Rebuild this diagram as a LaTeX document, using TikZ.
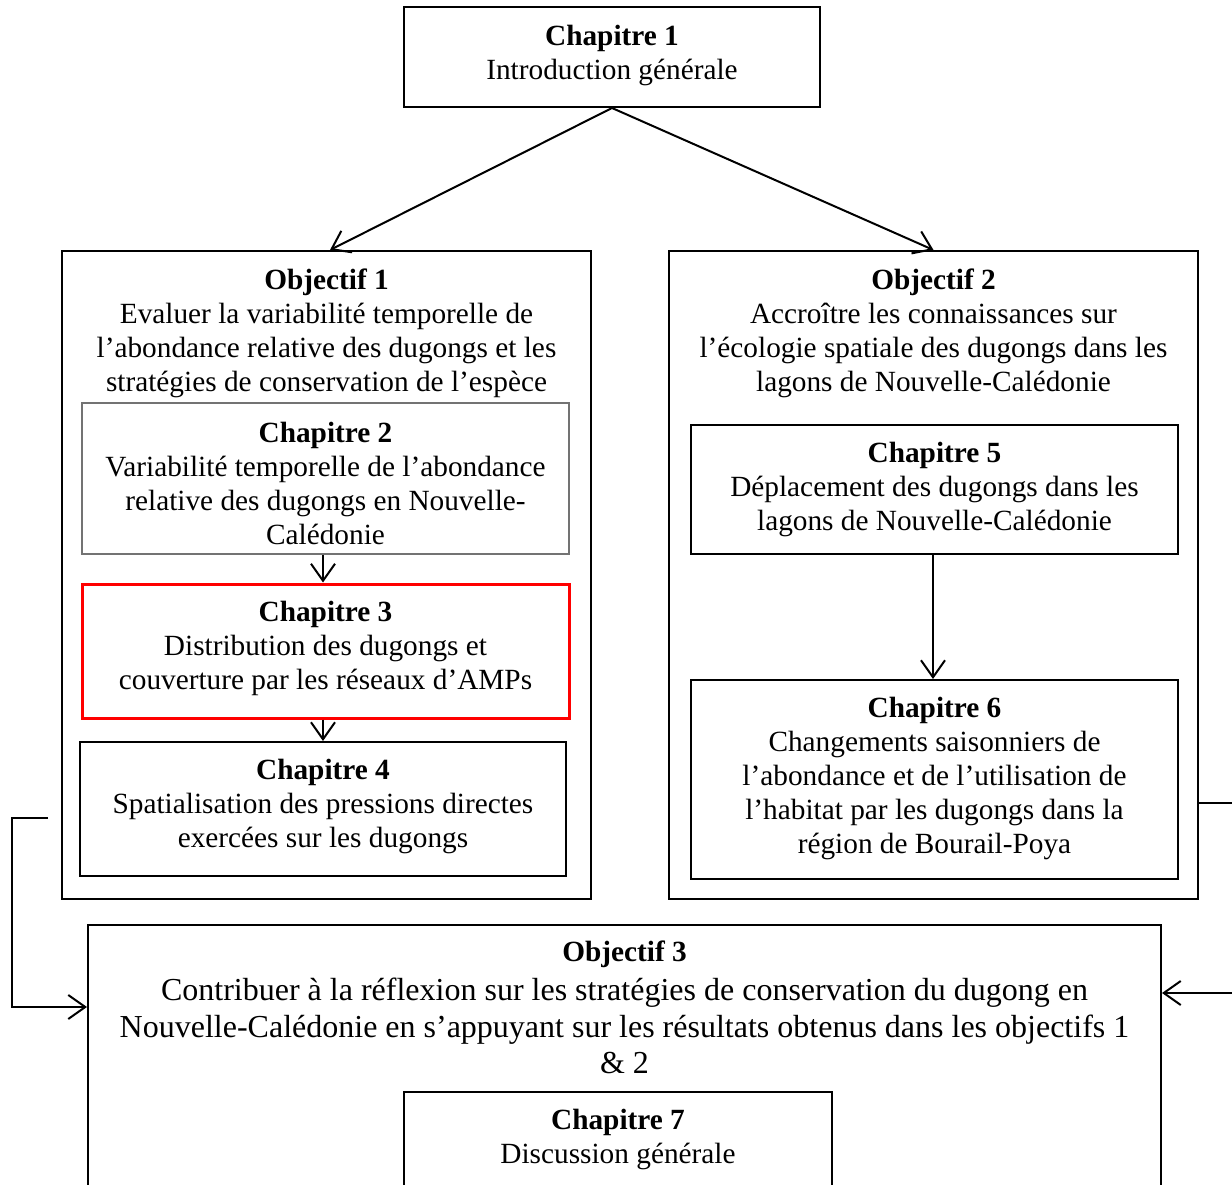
\documentclass[tikz,border=0pt]{standalone}
\usepackage{fontspec}
\setmainfont{Liberation Serif}
\usetikzlibrary{arrows.meta,calc}

\tikzset{
  box/.style={draw=black, line width=2pt, inner sep=0pt, fill=none},
  thinbox/.style={draw=black!55, line width=1.2pt, inner sep=0pt},
  redbox/.style={draw=red, line width=3pt, inner sep=0pt},
  txt/.style={align=center, inner sep=0pt, font=\fontsize{29.3}{34}\selectfont},
  bigtxt/.style={align=center, inner sep=0pt, font=\fontsize{32}{36.5}\selectfont},
  arr/.style={line width=2pt, -{Straight Barb[length=17pt,width=24pt,line width=2pt]}},
  link/.style={line width=2pt}
}

\begin{document}
\begin{tikzpicture}[x=1pt,y=-1pt]
  \path[use as bounding box] (0,0) rectangle (1232,1185);
  \clip (0,0) rectangle (1232,1185);

  % Introduction
  \node[box, minimum width=416pt, minimum height=100pt] (c1) at (612,57) {};
  \node[txt] (c1t) at (612,55) {\textbf{Chapitre 1}\\Introduction générale};

  % Objective 1 and its chapters
  \node[box, minimum width=529pt, minimum height=648pt] (o1) at (326.5,575) {};
  \node[txt] (o1t) at (326.5,333) {\textbf{Objectif 1}\\Evaluer la variabilité temporelle de\\l’abondance relative des dugongs et les\\stratégies de conservation de l’espèce};

  \node[thinbox, minimum width=487pt, minimum height=151pt] (c2) at (325.5,478.5) {};
  \node[txt] (c2t) at (325.5,483) {\textbf{Chapitre 2}\\Variabilité temporelle de l’abondance\\relative des dugongs en Nouvelle-\\Calédonie};

  \node[redbox, minimum width=487pt, minimum height=134pt] (c3) at (325.5,651) {};
  \node[txt] (c3t) at (325.5,648) {\textbf{Chapitre 3}\\Distribution des dugongs et\\couverture par les réseaux d’AMPs};

  \node[box, minimum width=486pt, minimum height=134pt] (c4) at (323,809) {};
  \node[txt] (c4t) at (323,806) {\textbf{Chapitre 4}\\Spatialisation des pressions directes\\exercées sur les dugongs};

  % Objective 2 and its chapters
  \node[box, minimum width=529pt, minimum height=648pt] (o2) at (933.5,575) {};
  \node[txt] (o2t) at (933.5,333) {\textbf{Objectif 2}\\Accroître les connaissances sur\\l’écologie spatiale des dugongs dans les\\lagons de Nouvelle-Calédonie};

  \node[box, minimum width=487pt, minimum height=129pt] (c5) at (934.5,489.5) {};
  \node[txt] (c5t) at (934.5,489) {\textbf{Chapitre 5}\\Déplacement des dugongs dans les\\lagons de Nouvelle-Calédonie};

  \node[box, minimum width=487pt, minimum height=199pt] (c6) at (934.5,779.5) {};
  \node[txt] (c6t) at (934.5,778) {\textbf{Chapitre 6}\\Changements saisonniers de\\l’abondance et de l’utilisation de\\l’habitat par les dugongs dans la\\région de Bourail-Poya};

  % Objective 3 and the general discussion
  \node[box, minimum width=1073pt, minimum height=290pt] (o3) at (624.5,1070) {};
  \node[txt] (o3h) at (624.5,954) {\textbf{Objectif 3}};
  \node[bigtxt] (o3t) at (624.5,1026) {Contribuer à la réflexion sur les stratégies de conservation du dugong en\\Nouvelle-Calédonie en s’appuyant sur les résultats obtenus dans les objectifs 1\\\& 2};

  \node[box, minimum width=428pt, minimum height=120pt] (c7) at (618,1152) {};
  \node[txt] (c7t) at (618,1139) {\textbf{Chapitre 7}\\Discussion générale};

  % Connectors
  \draw[arr] (c1.south) -- ($(o1.north)+(3.5,0)$);
  \draw[arr] (c1.south) -- (o2.north);
  \draw[arr] ($(c2.south)+(-2.5,0)$) -- ($(c3.north)+(-2.5,0)$);
  \draw[arr] ($(c3.south)+(-2.5,0)$) -- ($(c4.north)+(0,0)$);
  \draw[arr] ($(c5.south)+(-1.5,0)$) -- ($(c6.north)+(-1.5,0)$);

  \coordinate (lstart) at (48,818);
  \coordinate (ltop) at (12,818);
  \coordinate (lbot) at (12,1007);
  \draw[arr] (lstart) -- (ltop) -- (lbot) -- (o3.west |- lbot);

  \coordinate (rtop) at (1250,803);
  \coordinate (rbot) at (1250,993);
  \draw[arr] (o2.east |- rtop) -- (rtop) -- (rbot) -- (o3.east |- rbot);
\end{tikzpicture}
\end{document}
